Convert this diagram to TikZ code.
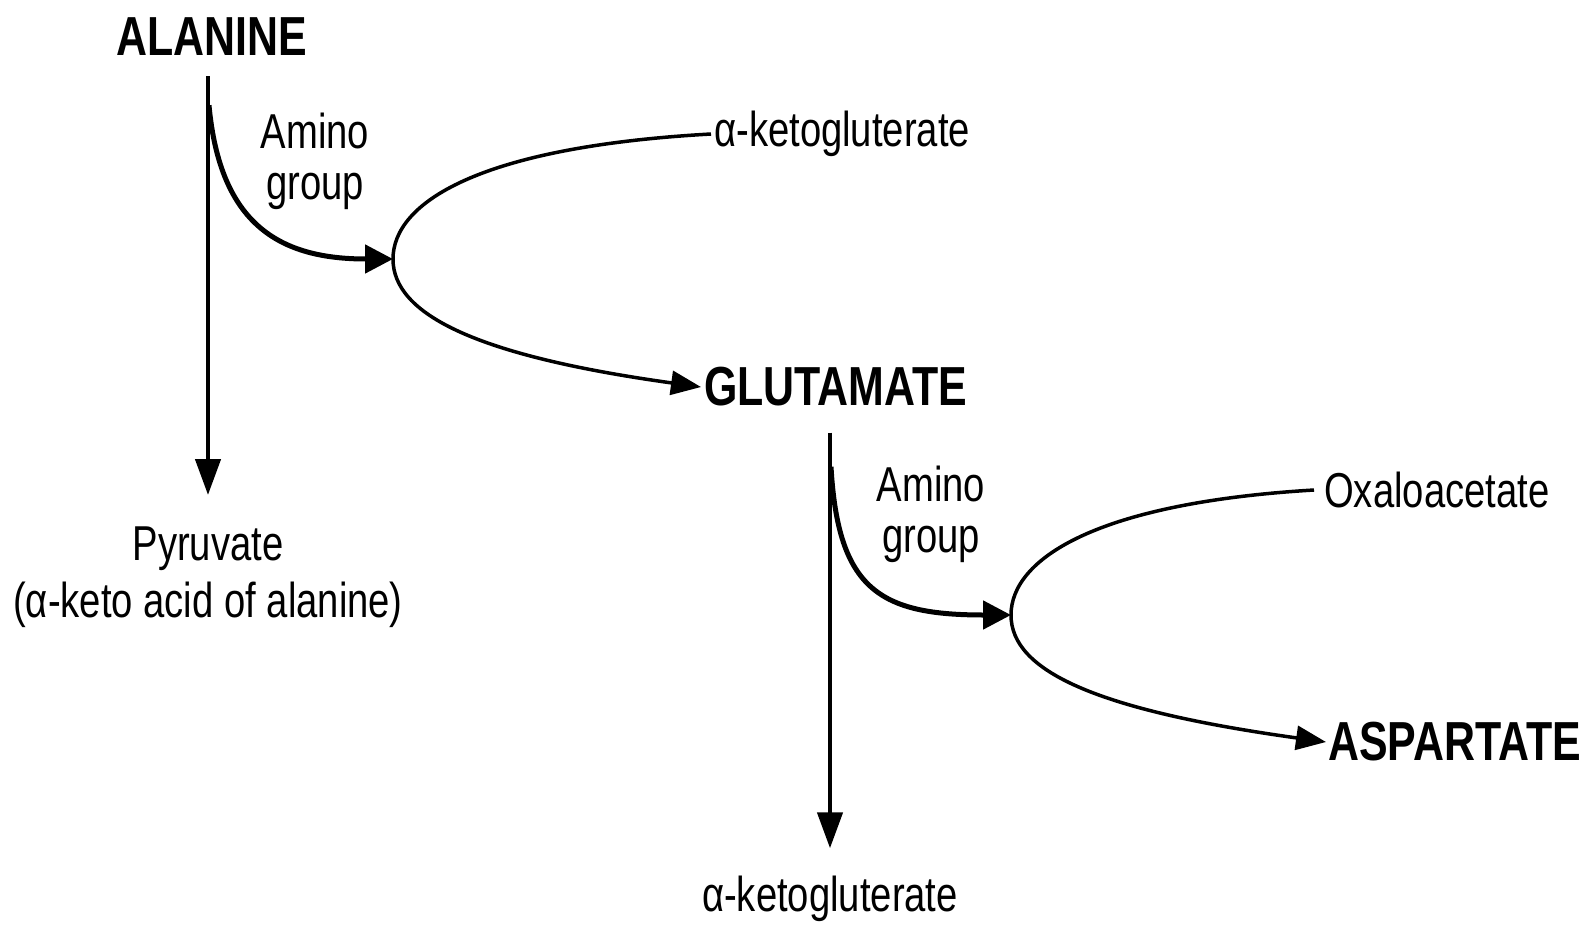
\documentclass[tikz,border=0pt]{standalone}
\usepackage{fontspec}
\setmainfont{Liberation Sans}[FakeStretch=0.78]
\usetikzlibrary{arrows.meta,calc}
\begin{document}
\begin{tikzpicture}[x=1pt,y=-1pt,
  lbl/.style={inner sep=0pt, font=\fontsize{49}{51}\selectfont, align=center},
  big/.style={inner sep=0pt, font=\fontsize{55}{57}\selectfont\bfseries},
  thinline/.style={line width=3.5pt},
  arr/.style={line width=3.5pt,-{Triangle[length=30pt,width=24pt]}},
  amino/.style={line width=5pt,-{Triangle[length=28pt,width=28pt]}},
  down/.style={line width=4.5pt,-{Triangle[length=36pt,width=25pt]}}]
\useasboundingbox (0,0) rectangle (1593,927);

\node[big, anchor=base] (alanine) at (212,55) {ALANINE};
\node[lbl] (amino1) at (315,161) {Amino\\group};
\coordinate (v1) at (393,259);
\node[lbl, anchor=west] (akg1) at (714,134) {α-ketogluterate};
\node[big, anchor=west] (glu) at (704,387) {GLUTAMATE};
\node[lbl, anchor=north, font=\fontsize{49}{57}\selectfont] (pyr) at (208,527) {Pyruvate\\(α-keto acid of alanine)};
\node[lbl] (amino2) at (931,514) {Amino\\group};
\coordinate (v2) at (1011,615);
\node[lbl, anchor=west] (oxa) at (1324,490) {Oxaloacetate};
\node[big, anchor=west] (asp) at (1328,742) {ASPARTATE};
\node[lbl, anchor=base] (akg2) at (830,911) {α-ketogluterate};

% alanine -> pyruvate
\draw[down] ($(alanine.south -| pyr.north)+(0,21)$) -- ($(pyr.north)+(0,-32)$);
\draw[amino] ($(alanine.south -| pyr.north)+(1,50)$) .. controls (220,225) and (280,259) .. (v1);
\draw[thinline] ($(akg1.west)+(-3,0)$) .. controls ($(v1)+(85,-112)$) and ($(v1)+(0,-56)$) .. (v1);
\draw[arr] (v1) .. controls ($(v1)+(0,56)$) and ($(v1)+(85,97)$) .. ($(glu.west)+(-3,0)$);

% glutamate -> alpha-ketoglutarate
\draw[down] ($(glu.south -| akg2.north)+(0,26)$) -- ($(akg2.north)+(0,-27)$);
\draw[amino] ($(glu.south -| akg2.north)+(1,60)$) .. controls (838,590) and (880,615) .. (v2);
\draw[thinline] ($(oxa.west)+(-10,0)$) .. controls ($(v2)+(85,-112)$) and ($(v2)+(0,-56)$) .. (v2);
\draw[arr] (v2) .. controls ($(v2)+(0,56)$) and ($(v2)+(85,95)$) .. ($(asp.west)+(-2,0)$);
\end{tikzpicture}
\end{document}
